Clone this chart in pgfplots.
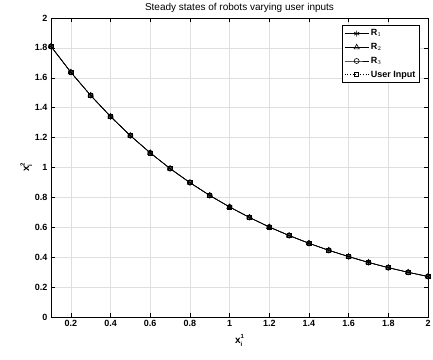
\documentclass[border=0pt]{standalone}
\usepackage{fontspec}
\setmainfont{Liberation Sans}
\usepackage{pgfplots}
\pgfplotsset{compat=1.18}
\usepackage{pgfplotstable}
\pgfplotstableread{
x y
0.1 1.810
0.2 1.637
0.3 1.482
0.4 1.341
0.5 1.213
0.6 1.098
0.7 0.993
0.8 0.899
0.9 0.813
1.0 0.736
1.1 0.666
1.2 0.602
1.3 0.545
1.4 0.493
1.5 0.446
1.6 0.404
1.7 0.365
1.8 0.330
1.9 0.299
2.0 0.271
}\data
\newcommand{\supsub}[2]{\rlap{\raisebox{-3pt}{\fontsize{6}{6}\selectfont #2}}\raisebox{4.5pt}{\fontsize{6}{6}\selectfont #1}}
\begin{document}
\begin{tikzpicture}
\begin{axis}[
  scale only axis,
  width=377pt, height=299pt,
  xmin=0.1, xmax=2, ymin=0, ymax=2,
  xtick={0.2,0.4,...,2.01},
  ytick={0,0.2,...,2.01},
  xticklabels={0.2,0.4,0.6,0.8,1,1.2,1.4,1.6,1.8,2},
  yticklabels={0,0.2,0.4,0.6,0.8,1,1.2,1.4,1.6,1.8,2},
  tick align=inside,
  tick pos=both,
  major tick length=4pt,
  tick style={black, line width=0.5pt},
  grid=major,
  grid style={gray!25, line width=0.4pt},
  axis line style={black, line width=0.6pt},
  ticklabel style={font=\fontsize{9}{10}\selectfont\bfseries},
  title={Steady states of robots varying user inputs},
  title style={font=\fontsize{10}{11}\selectfont, yshift=-4pt},
  xlabel={\bfseries x\supsub{1}{i}},
  ylabel={\bfseries x\supsub{2}{i}},
  xlabel style={font=\fontsize{10}{11}\selectfont, yshift=-1pt},
  ylabel style={font=\fontsize{10}{11}\selectfont, yshift=-4pt},
  legend style={at={(0.978,0.975)}, anchor=north east, font=\fontsize{9}{11}\selectfont\bfseries, draw=black, line width=0.6pt, inner sep=2pt, row sep=2pt},
  legend cell align=left,
  legend image code/.code={\draw[mark repeat=2,mark phase=2,#1] plot coordinates {(0cm,0cm) (0.42cm,0cm) (0.84cm,0cm)};},
]
\addplot[black, line width=0.6pt, mark=asterisk, mark size=3pt] table[x=x,y=y] {\data};
\addlegendentry{R$_1$}
\addplot[black, line width=0.6pt, mark=triangle, mark size=3pt] table[x=x,y=y] {\data};
\addlegendentry{R$_2$}
\addplot[black, line width=0.6pt, mark=o, mark size=2.5pt] table[x=x,y=y] {\data};
\addlegendentry{R$_3$}
\addplot[black, dotted, line width=0.6pt, mark=square, mark size=2pt, mark options={solid}] table[x=x,y=y] {\data};
\addlegendentry{User Input}
\end{axis}
\pgfresetboundingbox
\path ([xshift=-51pt,yshift=-42pt]current axis.south west) rectangle ([xshift=5pt,yshift=18pt]current axis.north east);
\end{tikzpicture}
\end{document}
